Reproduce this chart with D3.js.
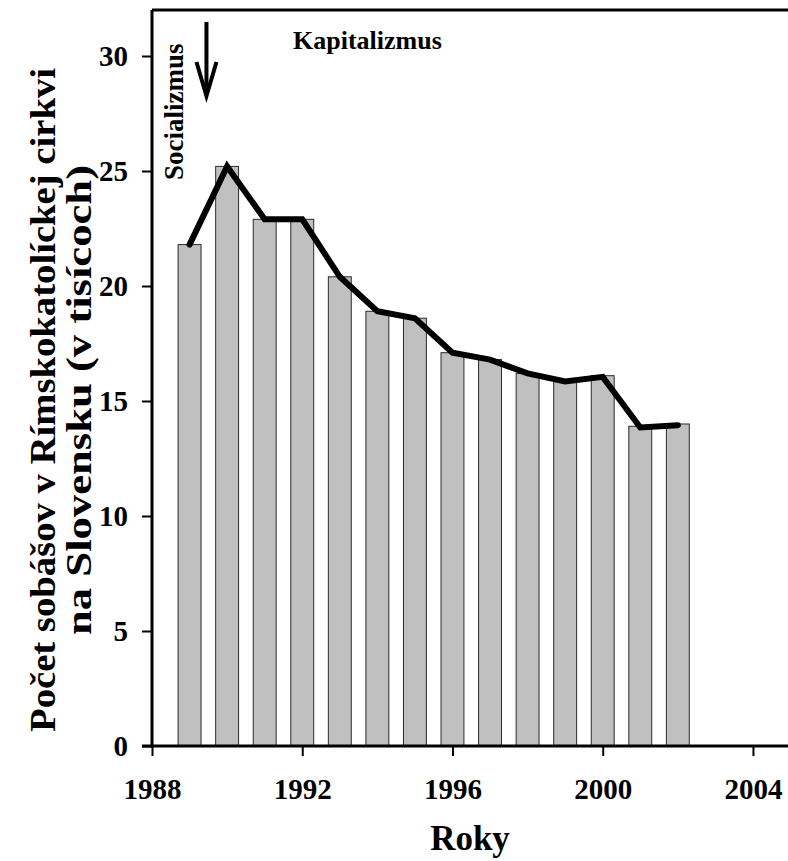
<!DOCTYPE html>
<html>
<head>
<meta charset="utf-8">
<script src="https://cdn.jsdelivr.net/npm/d3@7/dist/d3.min.js"></script>
<style>
  html, body { margin: 0; padding: 0; background: #fff; }
  svg { display: block; }
  text { font-family: "Liberation Serif", "Times New Roman", serif; font-weight: bold; fill: #000; }
</style>
</head>
<body>
<svg id="chart" width="788" height="861"></svg>
<script>
// ---- data ----
const years = [1989, 1990, 1991, 1992, 1993, 1994, 1995, 1996, 1997, 1998, 1999, 2000, 2001, 2002];
const barValues = [21.8, 25.2, 22.9, 22.9, 20.4, 18.9, 18.6, 17.1, 16.8, 16.2, 15.9, 16.1, 13.9, 14.0];
const lineValues = [21.8, 25.2, 22.9, 22.9, 20.4, 18.9, 18.6, 17.1, 16.8, 16.2, 15.85, 16.05, 13.85, 13.95];
const xTicks = [1988, 1992, 1996, 2000, 2004];
const yTicks = [0, 5, 10, 15, 20, 25, 30];
const yTitleLines = ["Počet sobášov v Rímskokatolíckej cirkvi", "na Slovensku (v tisícoch)"];
const xTitle = "Roky";
const noteLeft = "Socializmus";
const noteRight = "Kapitalizmus";
const changeYear = 1989.45;

// ---- layout ----
const W = 788, H = 861;
const mLeft = 152, mTop = 10, mBottom = 746;
const svg = d3.select("#chart");

const x = d3.scaleLinear().domain([1988, 2005]).range([mLeft, mLeft + 17 * 37.56]);
const y = d3.scaleLinear().domain([0, 32]).range([mBottom, mTop]);
const barW = 0.61 * (x(1989) - x(1988));

// bars
svg.append("g").selectAll("rect").data(years).join("rect")
  .attr("x", (d) => x(d) - barW / 2)
  .attr("y", (d, i) => y(barValues[i]))
  .attr("width", barW)
  .attr("height", (d, i) => y(0) - y(barValues[i]))
  .attr("fill", "#c0c0c0")
  .attr("stroke", "#2a2a2a")
  .attr("stroke-width", 1);

// line
const line = d3.line().x((d) => x(d[0])).y((d) => y(d[1]));
svg.append("path")
  .datum(years.map((yr, i) => [yr, lineValues[i]]))
  .attr("d", line)
  .attr("fill", "none")
  .attr("stroke", "#000")
  .attr("stroke-width", 6)
  .attr("stroke-linejoin", "miter")
  .attr("stroke-linecap", "round");

// top frame line
svg.append("line")
  .attr("x1", mLeft).attr("x2", W)
  .attr("y1", y(32)).attr("y2", y(32))
  .attr("stroke", "#000").attr("stroke-width", 3);

// x axis
const xAxis = d3.axisBottom(x).tickValues(xTicks).tickFormat(d3.format("d")).tickSize(10).tickSizeOuter(0).tickPadding(22);
const gx = svg.append("g").attr("transform", `translate(0,${mBottom})`).call(xAxis);
gx.attr("font-family", null);
gx.select(".domain").remove();
gx.selectAll(".tick line").attr("stroke", "#000").attr("stroke-width", 2);
gx.selectAll(".tick text").style("font-size", "29px").attr("fill", "#000");
svg.append("line")
  .attr("x1", mLeft - 10).attr("x2", W)
  .attr("y1", mBottom).attr("y2", mBottom)
  .attr("stroke", "#000").attr("stroke-width", 3);

// y axis
const yAxis = d3.axisLeft(y).tickValues(yTicks).tickSize(10).tickSizeOuter(0).tickPadding(14);
const gy = svg.append("g").attr("transform", `translate(${mLeft},0)`).call(yAxis);
gy.attr("font-family", null);
gy.select(".domain").remove();
gy.selectAll(".tick line").attr("stroke", "#000").attr("stroke-width", 2);
gy.selectAll(".tick text").style("font-size", "29px").attr("fill", "#000");
svg.append("line")
  .attr("x1", mLeft).attr("x2", mLeft)
  .attr("y1", mTop).attr("y2", mBottom + 1.5)
  .attr("stroke", "#000").attr("stroke-width", 3);

// y title
const yt = svg.append("text")
  .attr("transform", `translate(55,${(mTop + mBottom) / 2 + 22}) rotate(-90)`)
  .attr("text-anchor", "middle")
  .style("font-size", "35px");
yt.append("tspan").attr("x", 0).attr("dy", 0).attr("textLength", 664).attr("lengthAdjust", "spacingAndGlyphs").text(yTitleLines[0]);
yt.append("tspan").attr("x", 0).attr("dy", 36).attr("textLength", 470).attr("lengthAdjust", "spacingAndGlyphs").text(yTitleLines[1]);

// x title
svg.append("text")
  .attr("x", (mLeft + W) / 2).attr("y", 850)
  .attr("text-anchor", "middle")
  .style("font-size", "35px")
  .text(xTitle);

// annotations
svg.append("text")
  .attr("transform", `translate(183,180) rotate(-90)`)
  .style("font-size", "27px")
  .text(noteLeft);
svg.append("text")
  .attr("x", 293).attr("y", 49)
  .style("font-size", "26px")
  .text(noteRight);

// arrow
const ax = x(changeYear);
svg.append("line")
  .attr("x1", ax).attr("x2", ax).attr("y1", 22).attr("y2", 95)
  .attr("stroke", "#000").attr("stroke-width", 4);
svg.append("path")
  .attr("d", `M${ax - 10},62 L${ax},96 L${ax + 10},62`)
  .attr("fill", "none").attr("stroke", "#000").attr("stroke-width", 4)
  .attr("stroke-linejoin", "miter");
</script>
</body>
</html>
